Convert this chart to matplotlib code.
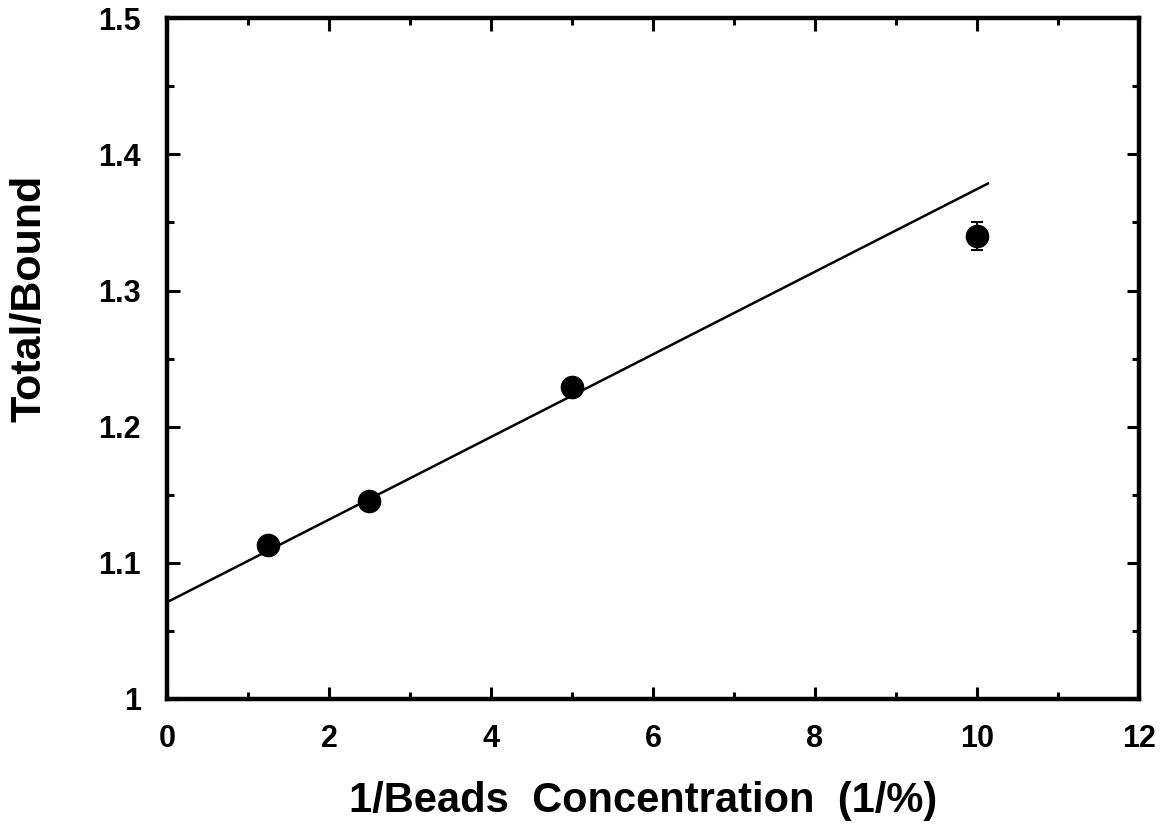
import matplotlib
matplotlib.use("Agg")
import matplotlib.pyplot as plt
from matplotlib.ticker import MultipleLocator, FuncFormatter

# Data
conc_inv = [1.25, 2.5, 5.0, 10.0]
total_bound = [1.113, 1.145, 1.229, 1.340]
total_bound_err = [0.004, 0.004, 0.004, 0.010]
fit_x = [0.0, 10.15]
fit_y = [1.071, 1.379]

xticks = [0, 2, 4, 6, 8, 10, 12]
yticks = [1.0, 1.1, 1.2, 1.3, 1.4, 1.5]

plt.rcParams['font.family'] = ['Liberation Sans', 'DejaVu Sans']
plt.rcParams['font.weight'] = 'bold'

fig = plt.figure(figsize=(11.68, 8.30), dpi=100)
ax = fig.add_axes([0.143, 0.158, 0.832, 0.820])

ax.plot(fit_x, fit_y, color='black', lw=1.8, solid_capstyle='butt')
ax.errorbar(conc_inv, total_bound, yerr=total_bound_err, fmt='o', color='black',
            markersize=16, capsize=4, elinewidth=1.5, capthick=1.5)

ax.set_xlim(0, 12)
ax.set_ylim(1.0, 1.5)
ax.set_xticks(xticks)
ax.set_yticks(yticks)
ax.xaxis.set_minor_locator(MultipleLocator(1))
ax.yaxis.set_minor_locator(MultipleLocator(0.05))

def yfmt(v, pos):
    return '1' if abs(v - 1) < 1e-9 else f'{v:.1f}'
ax.yaxis.set_major_formatter(FuncFormatter(yfmt))

for s in ax.spines.values():
    s.set_linewidth(3.2)

ax.tick_params(which='both', direction='in', top=True, right=True, width=2.2)
ax.tick_params(which='major', length=9, labelsize=22)
ax.tick_params(which='minor', length=5)
ax.tick_params(axis='y', which='major', pad=19)
ax.tick_params(axis='x', which='major', pad=18)

for lab in ax.get_xticklabels() + ax.get_yticklabels():
    lab.set_fontweight('bold')

ax.set_xlabel('1/Beads  Concentration  (1/%)', fontsize=30, fontweight='bold', va='center')
ax.set_ylabel('Total/Bound', fontsize=31, fontweight='bold', va='center')
ax.xaxis.set_label_coords(0.49, -0.150)
ax.yaxis.set_label_coords(-0.142, 0.589)

fig.savefig('out.png', dpi=100)
